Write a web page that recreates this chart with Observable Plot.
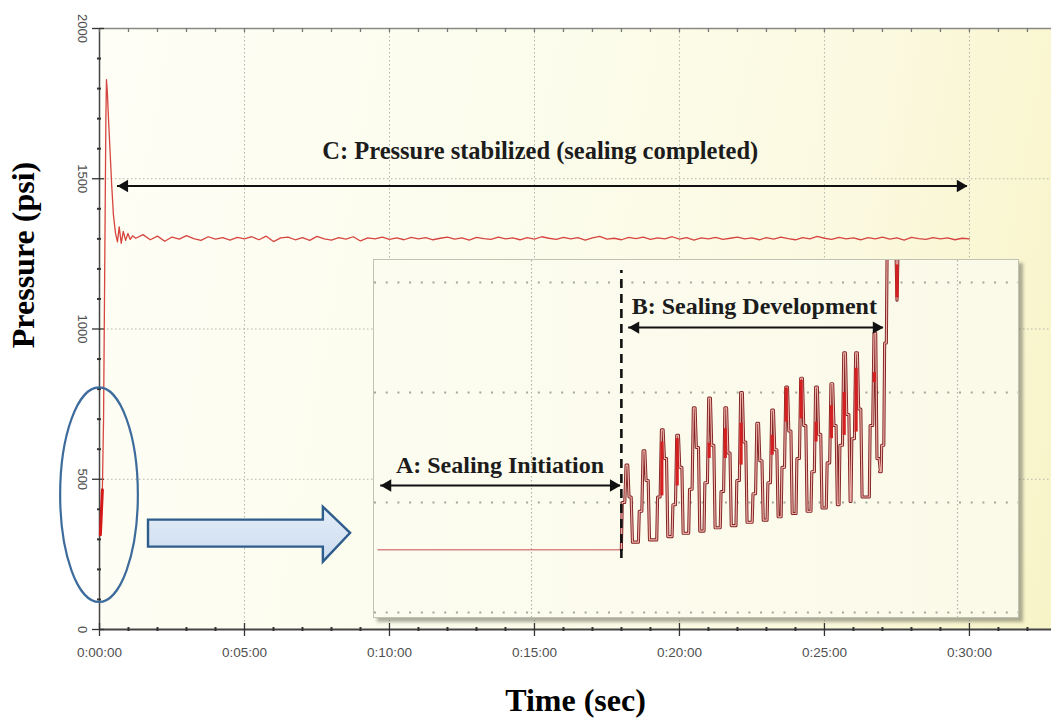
<!DOCTYPE html>
<html><head><meta charset="utf-8">
<script src="https://cdn.jsdelivr.net/npm/d3@7"></script>
<script src="https://cdn.jsdelivr.net/npm/@observablehq/plot@0.6"></script>
<style>
body{margin:0;background:#fff;}
#wrap{position:relative;width:1051px;height:719px;overflow:hidden;}
#bg{position:absolute;left:99px;top:28px;width:952px;height:601px;
  background:linear-gradient(100deg,#fefef6 0%,#fcfcec 45%,#fbf9df 75%,#f8f4c8 100%);}
#main{position:absolute;left:0;top:0;}
#inset{position:absolute;left:373px;top:259px;width:644px;height:357px;border:1px solid #c2c2b2;
  box-shadow:4px 4px 3px rgba(110,110,95,0.55);background:linear-gradient(90deg,#fcfcf0,#fbfae9);}
</style></head>
<body><div id="wrap"><div id="bg"></div><div id="main"></div><div id="inset"></div></div>
<script>
// ---------- main chart data ----------
const xTickValues = [0, 5, 10, 15, 20, 25, 30];
const xTickLabels = ["0:00:00", "0:05:00", "0:10:00", "0:15:00", "0:20:00", "0:25:00", "0:30:00"];
const yTickValues = [0, 500, 1000, 1500, 2000];
const yTickLabels = ["0", "500", "1000", "1500", "2000"];

// initial rise and spike (time in sec, pressure in psi)
const riseT = [0.03, 0.06, 0.10, 0.14, 0.18, 0.22, 0.24, 0.27, 0.31, 0.36, 0.42, 0.48, 0.55, 0.62, 0.68, 0.75, 0.82, 0.90, 0.98, 1.06, 1.14];
const riseP = [320, 380, 470, 700, 1200, 1700, 1830, 1790, 1700, 1600, 1480, 1380, 1320, 1290, 1340, 1285, 1325, 1295, 1318, 1298, 1310];
// stabilized pressure, sampled every 0.25 s from 1.25 s to 30 s
const stableStart = 1.25, stableStep = 0.25;
const stableP = [
1302,1314,1297,1309,1292,1306,1299,1311,1301,1295,
1307,1299,1304,1296,1305,1300,1307,1297,1309,1291,
1303,1306,1297,1304,1295,1308,1300,1296,1304,1299,
1307,1293,1303,1300,1306,1298,1303,1297,1305,1300,
1304,1297,1302,1306,1299,1303,1296,1305,1301,1298,
1306,1300,1303,1297,1304,1299,1307,1302,1298,1305,
1300,1304,1296,1303,1308,1299,1302,1297,1305,1301,
1306,1298,1303,1300,1307,1299,1304,1296,1303,1300,
1305,1298,1302,1306,1300,1303,1297,1304,1299,1306,
1301,1297,1304,1300,1308,1302,1298,1305,1300,1303,
1297,1304,1300,1306,1299,1303,1296,1305,1301,1298,
1304,1300,1303,1297,1302,1300];
// highlighted early segment
const mainHiT = [0.03, 0.10];
const mainHiP = [315, 465];

// annotation C
const cLabel = "C: Pressure stabilized (sealing completed)";
const cLabelT = 15.2, cLabelP = 1593;
const cArrowT = [0.62, 29.93], cArrowP = 1476;
// ellipse & block arrow (data units)
const ellipseCenter = [0, 447], ellipseRadius = [1.34, 357];
const blockT = [1.69, 7.72, 8.66];
const blockShaftP = [274, 364], blockHeadP = [224, 407], blockTipP = 320;

// ---------- inset data (time in ms, pressure in psi) ----------
const insetGridP = [300, 400, 500, 600];
const insetGridT = [50, 150];
const flatT = [14, 71.1], flatP = 357;
const dashT = 71.1, dashP = [349, 611];
const pulseT     = [72.6, 76.6, 80.9, 84.5, 88.4, 92.0, 95.8, 99.5, 103.3, 106.8, 110.1, 113.6, 117.1, 120.7, 123.7, 126.5, 130.8];
const pulsePeak  = [434, 447, 466, 461, 486, 495, 486, 500, 472, 484, 505, 513, 505, 508, 536, 536, 554];
const pulseTrough= [357, 364, 366, 369, 372, 374, 377, 379, 382, 384, 387, 390, 392, 395, 398, 401, 405];
const pulseRise  = [400, 392, 405, 398, 412, 418, 410, 420, 408, 418, 432, 440, 428, 436, 452, 458, 470];
const pulseFall  = [405, 420, 440, 432, 450, 452, 445, 455, 438, 448, 465, 470, 462, 470, 480, 485, 440];
const tailT = [131.7, 132.1, 132.2, 132.7, 132.9, 133.3, 133.5, 135.5, 135.8, 136.1, 140];
const tailP = [428, 428, 452, 452, 545, 545, 640, 640, 584, 640, 640];
const hiT    = [80.6, 84.2, 91.7, 95.5, 99.2, 106.5, 109.8, 113.3, 116.8, 120.4, 123.4, 126.2, 130.5, 135.8];
const hiLow  = [406, 415, 440, 440, 434, 443, 473, 476, 455, 458, 461, 464, 509, 586];
const hiHigh = [455, 458, 454, 467, 472, 461, 504, 511, 473, 488, 500, 522, 518, 616];
const aLabel = "A: Sealing Initiation", aLabelT = 42.6, aLabelP = 433.6;
const aArrowT = [14.6, 70.9], aArrowP = 415.5;
const bLabel = "B: Sealing Development", bLabelT = 102.3, bLabelP = 578;
const bArrowT = [72.8, 132.6], bArrowP = 559;

// ---------- build tables ----------
const mainData = riseT.map((t, i) => ({t, p: riseP[i]}))
  .concat(stableP.map((p, i) => ({t: stableStart + i * stableStep, p})));
const mainHi = mainHiT.map((t, i) => ({t, p: mainHiP[i]}));
const xMinor = d3.range(1, 33).filter(d => d % 5 !== 0);
const yMinor = d3.range(100, 2000, 100).filter(d => d % 500 !== 0);

const serif = "'Liberation Serif','Times New Roman',serif";
const sans = "'Liberation Sans',Arial,sans-serif";
const axisCol = "#454545";

function arrowMarks(t0, t1, p, width) {
  return [
    Plot.ruleY([p], {x1: t0, x2: t1, stroke: "#111", strokeWidth: width}),
    Plot.dot([t1], {x: d => d, y: () => p, symbol: "triangle", rotate: 90, r: 4.6, fill: "#111", stroke: "none", dx: -7}),
    Plot.dot([t0], {x: d => d, y: () => p, symbol: "triangle", rotate: -90, r: 4.6, fill: "#111", stroke: "none", dx: 7})
  ];
}

const chart = Plot.plot({
  width: 1051, height: 719,
  marginLeft: 99, marginRight: 0, marginTop: 28, marginBottom: 90,
  style: "background: transparent; overflow: visible;",
  x: {domain: [0, 32.83], axis: null},
  y: {domain: [0, 2000], axis: null},
  marks: [
    Plot.ruleY([500, 1000, 1500], {stroke: "#b4b4a8", strokeWidth: 1, strokeDasharray: "1.5,2.5"}),
    Plot.ruleX(xTickValues.filter(d => d > 0), {stroke: "#b4b4a8", strokeWidth: 1, strokeDasharray: "1.5,2.5"}),
    // frame lines
    Plot.ruleY([2000], {stroke: "#8a8a84", strokeWidth: 1.5}),
    Plot.ruleY([0], {stroke: axisCol, strokeWidth: 2}),
    Plot.ruleX([0], {y1: 0, y2: 2000, stroke: axisCol, strokeWidth: 1.5}),
    // ticks
    Plot.ruleX(xMinor, {x: d => d, y1: 0, y2: 0, insetTop: -2, insetBottom: -2, stroke: "#333", strokeWidth: 2}),
    Plot.ruleX(xTickValues, {x: d => d, y1: 0, y2: 0, insetTop: -6, insetBottom: -7, stroke: "#333", strokeWidth: 1.3}),
    Plot.ruleX(xMinor.concat(xTickValues), {x: d => d, y1: 2000, y2: 2000, insetBottom: -4, stroke: "#777", strokeWidth: 1.3}),
    Plot.ruleY(yMinor, {y: d => d, x1: 0, x2: 0, insetLeft: -2, insetRight: -2, stroke: "#333", strokeWidth: 2}),
    Plot.ruleY(yTickValues, {y: d => d, x1: 0, x2: 0, insetLeft: -7, insetRight: -5, stroke: "#333", strokeWidth: 1.3}),
    // tick labels
    Plot.text(xTickLabels, {x: (d, i) => xTickValues[i], y: () => 0, dy: 23, text: d => d, fontSize: 13.5, fontFamily: sans, fill: "#505050"}),
    Plot.text(yTickLabels, {x: () => 0, y: (d, i) => yTickValues[i], dx: -17, rotate: 90, text: d => d, fontSize: 13, fontFamily: sans, fill: "#505050"}),
    // data
    Plot.line(mainData, {x: "t", y: "p", stroke: "#d6453f", strokeWidth: 1.3, strokeLinejoin: "round"}),
    Plot.line(mainHi, {x: "t", y: "p", stroke: "#d41818", strokeWidth: 3}),
    // annotation C
    ...arrowMarks(cArrowT[0], cArrowT[1], cArrowP, 2),
    Plot.text([cLabel], {x: () => cLabelT, y: () => cLabelP, text: d => d, fontSize: 24.5, fontWeight: "bold", fontFamily: serif, fill: "#1c1c1c"}),
    // axis titles
    Plot.text(["Pressure (psi)"], {frameAnchor: "left", textAnchor: "middle", lineAnchor: "middle", dx: -76, dy: -74, rotate: -90, text: d => d, fontSize: 32, fontWeight: "bold", fontFamily: serif, fill: "#000"}),
    Plot.text(["Time (sec)"], {frameAnchor: "bottom", textAnchor: "middle", lineAnchor: "middle", dy: 71, text: d => d, fontSize: 32, fontWeight: "bold", fontFamily: serif, fill: "#000"})
  ]
});
document.getElementById("main").appendChild(chart);

// ellipse and block arrow through the chart's scales
{
  const sx = chart.scale("x"), sy = chart.scale("y");
  const g = d3.select(chart).append("g");
  g.append("ellipse")
    .attr("cx", sx.apply(ellipseCenter[0])).attr("cy", sy.apply(ellipseCenter[1]))
    .attr("rx", sx.apply(ellipseRadius[0]) - sx.apply(0))
    .attr("ry", sy.apply(0) - sy.apply(ellipseRadius[1]))
    .attr("fill", "none").attr("stroke", "#3d6c9c").attr("stroke-width", 2.2);
  const pts = [
    [blockT[0], blockShaftP[0]], [blockT[1], blockShaftP[0]], [blockT[1], blockHeadP[0]],
    [blockT[2], blockTipP], [blockT[1], blockHeadP[1]], [blockT[1], blockShaftP[1]], [blockT[0], blockShaftP[1]]
  ].map(([t, p]) => [sx.apply(t), sy.apply(p)]);
  const defs = d3.select(chart).append("defs");
  const lg = defs.append("linearGradient").attr("id", "blockFill").attr("x1", 0).attr("y1", 0).attr("x2", 0).attr("y2", 1);
  lg.append("stop").attr("offset", "0%").attr("stop-color", "#e6eef8");
  lg.append("stop").attr("offset", "100%").attr("stop-color", "#c9dbee");
  g.append("path").attr("d", "M" + pts.map(p => p.join(",")).join("L") + "Z")
    .attr("fill", "url(#blockFill)").attr("stroke", "#2e5c8c").attr("stroke-width", 2.4).attr("stroke-linejoin", "miter");
}

// ---------- inset ----------
const flatData = flatT.map(t => ({t, p: flatP}));
const trace = [{t: dashT, p: flatP}];
pulseT.forEach((tc, i) => {
  const nextTrough = i + 1 < pulseTrough.length ? pulseTrough[i + 1] : tailP[0];
  trace.push({t: tc - 1.5, p: pulseTrough[i]});
  trace.push({t: tc - 1.3, p: pulseRise[i]});
  trace.push({t: tc - 0.7, p: pulseRise[i]});
  trace.push({t: tc - 0.4, p: pulsePeak[i]});
  trace.push({t: tc, p: pulsePeak[i]});
  trace.push({t: tc + 0.3, p: pulseFall[i]});
  trace.push({t: tc + 0.8, p: pulseFall[i]});
  trace.push({t: tc + 1.1, p: nextTrough});
});
tailT.forEach((t, i) => trace.push({t, p: tailP[i]}));
const hiData = hiT.map((t, i) => ({t, lo: hiLow[i], hi: hiHigh[i]}));

const inset = Plot.plot({
  width: 644, height: 357,
  marginLeft: 0, marginRight: 0, marginTop: 0, marginBottom: 0,
  style: "background: transparent; overflow: hidden;",
  x: {domain: [13.15, 164.32], axis: null},
  y: {domain: [295.45, 620], axis: null},
  marks: [
    Plot.ruleY(insetGridP, {stroke: "#a6a69c", strokeWidth: 2, strokeDasharray: "2,9.7"}),
    Plot.ruleX(insetGridT, {stroke: "#b4b4aa", strokeWidth: 1.2, strokeDasharray: "1.5,2.5"}),
    Plot.line(flatData, {x: "t", y: "p", stroke: "#d98585", strokeWidth: 1.6}),
    Plot.line(trace, {x: "t", y: "p", stroke: "#7e2222", strokeWidth: 3.1, strokeLinejoin: "round", clip: true}),
    Plot.line(trace, {x: "t", y: "p", stroke: "#efb2ab", strokeWidth: 1.2, strokeLinejoin: "round", clip: true}),
    Plot.ruleX(hiData, {x: "t", y1: "lo", y2: "hi", stroke: "#d42020", strokeWidth: 3.2, clip: true}),
    Plot.ruleX([dashT], {y1: dashP[0], y2: dashP[1], stroke: "#111", strokeWidth: 2.6, strokeDasharray: "9,6"}),
    ...arrowMarks(aArrowT[0], aArrowT[1], aArrowP, 2),
    ...arrowMarks(bArrowT[0], bArrowT[1], bArrowP, 2),
    Plot.text([aLabel], {x: () => aLabelT, y: () => aLabelP, text: d => d, fontSize: 24, fontWeight: "bold", fontFamily: serif, fill: "#1c1c1c"}),
    Plot.text([bLabel], {x: () => bLabelT, y: () => bLabelP, text: d => d, fontSize: 24, fontWeight: "bold", fontFamily: serif, fill: "#1c1c1c"})
  ]
});
document.getElementById("inset").appendChild(inset);
</script>
</body></html>
